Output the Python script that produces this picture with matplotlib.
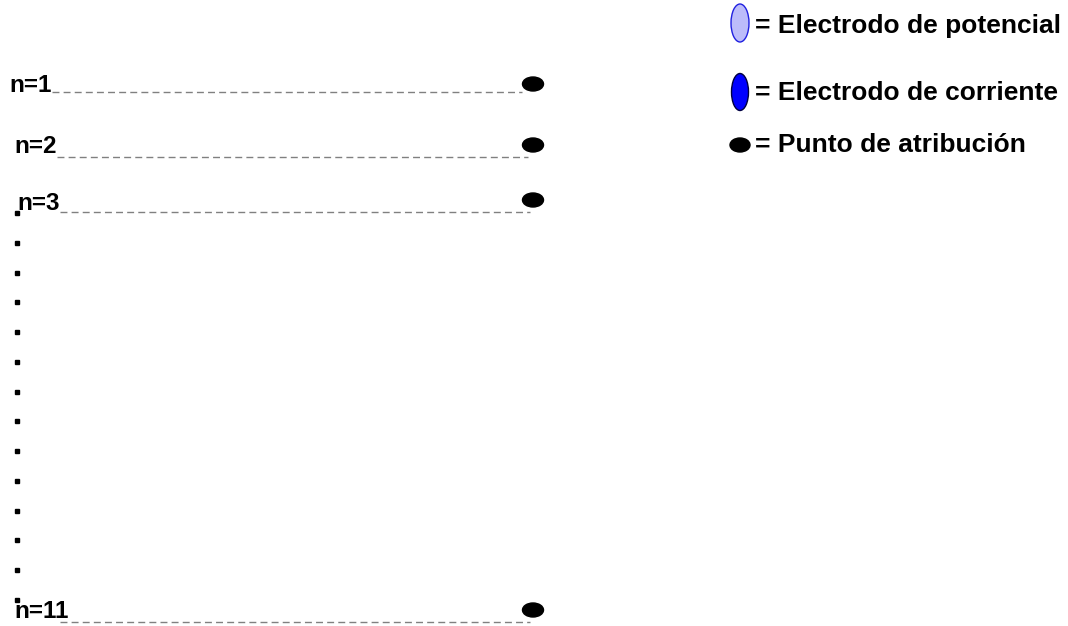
import matplotlib
matplotlib.use("Agg")
import matplotlib.pyplot as plt
from matplotlib.patches import Ellipse

# Data
row_labels = ["n=1", "n=2", "n=3", "n=11"]
row_label_x = [9, 14, 17, 14]
row_label_base = [92, 153, 210, 618]
line_start = [52, 57, 60, 60]
line_end = [522, 528, 530, 530]
line_y = [92, 157, 212, 622]
point_y = [84, 145, 200, 610]
point_x = 533
ellipsis_y = [213, 243, 273, 302, 332, 362, 392, 421, 451, 481, 511, 540, 570, 600]
legend_labels = ["= Electrodo de potencial", "= Electrodo de corriente", "= Punto de atribución"]
legend_y = [23, 92, 145]
legend_base = [33, 100, 152]

plt.rcParams['font.family'] = ['Liberation Sans', 'DejaVu Sans']
fig = plt.figure(figsize=(10.68, 6.26), dpi=100)
ax = fig.add_axes([0, 0, 1, 1])
ax.set_xlim(0, 1068)
ax.set_ylim(626, 0)
ax.axis('off')

for lab, lx, lb, x0, x1, yl, yp in zip(row_labels, row_label_x, row_label_base,
                                          line_start, line_end, line_y, point_y):
    ax.text(lx, lb, lab, fontsize=17.5, fontweight='bold', ha='left', va='baseline')
    ax.plot([x0, x1], [yl, yl], color='#808080', lw=1, dashes=(5, 3))
    ax.add_patch(Ellipse((point_x, yp), 21, 14, facecolor='black', edgecolor='black'))

ax.plot([17] * len(ellipsis_y), ellipsis_y, 's', color='black', ms=2.5, ls='none')

# Legend
ax.add_patch(Ellipse((740, legend_y[0]), 18, 38, facecolor='#bcbcfa', edgecolor='#2020e0', lw=1))
ax.add_patch(Ellipse((740, legend_y[1]), 17, 37, facecolor='#0000ff', edgecolor='#000040', lw=1))
ax.add_patch(Ellipse((740, legend_y[2]), 20, 14, facecolor='black', edgecolor='black'))
for lab, lb in zip(legend_labels, legend_base):
    ax.text(755, lb, lab, fontsize=19, fontweight='bold', ha='left', va='baseline')

fig.savefig("out.png", dpi=100)
